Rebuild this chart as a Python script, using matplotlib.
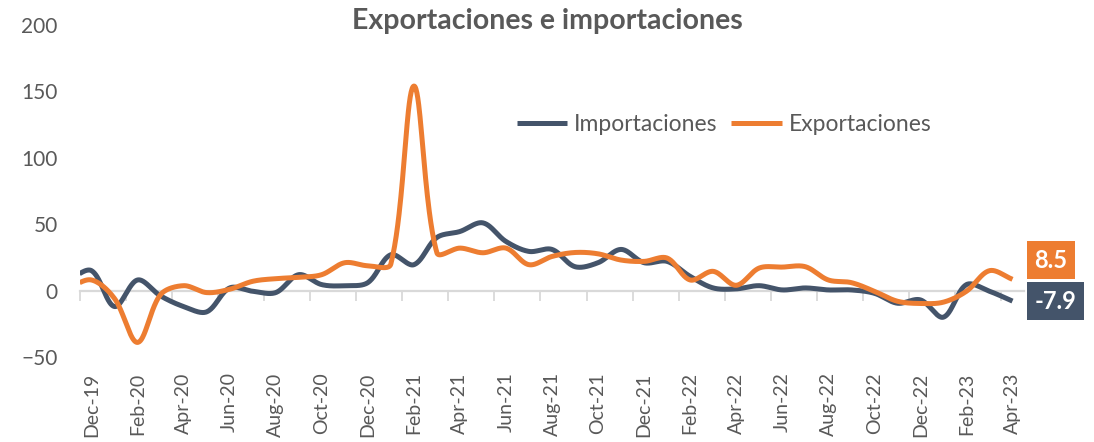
import numpy as np
import pandas as pd
import matplotlib
matplotlib.use("Agg")
import matplotlib.pyplot as plt

plt.rcParams["font.family"] = ["Lato", "DejaVu Sans"]

# -----------------------------
# DATA (Nov-19 .. Apr-23, Nov-19 only partly visible at left edge)
# -----------------------------
months = pd.date_range("2019-11-01", "2023-04-01", freq="MS")
month_labels = [m.strftime("%b-%y") for m in months]

importaciones = [8, 15, -12, 8, -4, -12, -16, 2, -0.5, -1.5, 12,
                 4.5, 3.7, 6, 27, 19.5, 40, 44.5, 51, 37, 29.5,
                 31, 18, 21, 31, 21, 22, 10.7, 2, 1.3, 3.7,
                 0.5, 2, 0.5, 0.5, -2, -9.5, -7, -20, 4.5, -0.5, -7.9]

exportaciones = [2, 8, -6, -39, -3, 3.7, -1.5, 1, 7, 9, 10,
                 12, 21, 18.7, 20, 154, 28.5, 32, 28.5, 32, 19.5,
                 25.7, 28.7, 27.7, 23, 22, 24.5, 8, 14.5, 4, 17,
                 17.7, 18, 8, 6, -0.5, -8, -9.7, -8.7, -0.5, 15, 8.5]

BLUE = "#44546A"
ORANGE = "#ED7D31"
GRAY_TXT = "#595959"
GRAY_LINE = "#D9D9D9"

# approx. pixel scale of the plot (px per month, px per unit) for smoothing
SX, SY = 23.0, 1.333


# -----------------------------
# Excel-like smoothed line (Bezier, arms scaled by chord length)
# -----------------------------
def smooth(x, y, steps=40, f=1 / 3):
    p = np.column_stack([np.asarray(x, float) * SX, np.asarray(y, float) * SY])
    pp = np.vstack([p[0], p, p[-1]])
    out = []
    for i in range(len(p) - 1):
        p0, p1, p2, p3 = pp[i], pp[i + 1], pp[i + 2], pp[i + 3]
        d01 = np.linalg.norm(p1 - p0)
        d12 = np.linalg.norm(p2 - p1)
        d23 = np.linalg.norm(p3 - p2)
        c1 = p1 + (p2 - p0) * f * d12 / max(d01 + d12, 1e-9)
        c2 = p2 - (p3 - p1) * f * d12 / max(d12 + d23, 1e-9)
        t = np.linspace(0, 1, steps, endpoint=False)[:, None]
        seg = ((1 - t) ** 3) * p1 + 3 * ((1 - t) ** 2) * t * c1 \
            + 3 * (1 - t) * t**2 * c2 + t**3 * p2
        out.append(seg)
    out.append(p[-1][None, :])
    out = np.vstack(out)
    return out[:, 0] / SX, out[:, 1] / SY


# x index: Dec-19 = 0
xi = np.arange(len(months)) - 1

fig = plt.figure(figsize=(10.94, 4.42), dpi=100)
ax = fig.add_axes([80 / 1094, 1 - 357 / 442, 944 / 1094, 332 / 442])

xb, yb = smooth(xi, importaciones)
xo, yo = smooth(xi, exportaciones)
ax.plot(xb, yb, color=BLUE, lw=3.6, solid_capstyle="butt", label="Importaciones", zorder=3)
ax.plot(xo, yo, color=ORANGE, lw=3.6, solid_capstyle="butt", label="Exportaciones", zorder=4)

ax.set_xlim(-0.5, 40.5)
ax.set_ylim(-50, 200)
ax.set_yticks(np.arange(-50, 201, 50))
ax.tick_params(axis="y", length=0, pad=16, labelsize=15, labelcolor=GRAY_TXT)

# category labels every two months, at the bottom
lab_idx = np.arange(1, len(months), 2)
ax.set_xticks(xi[lab_idx])
ax.set_xticklabels([month_labels[i] for i in lab_idx], rotation=90)
ax.tick_params(axis="x", length=0, pad=11, labelsize=14, labelcolor=GRAY_TXT)

for s in ax.spines.values():
    s.set_visible(False)

# zero axis line with tick marks between categories
sec = ax.secondary_xaxis(0, transform=ax.transData)
sec.spines["bottom"].set_color(GRAY_LINE)
sec.spines["bottom"].set_linewidth(1.6)
sec.set_xticks(np.arange(-0.5, 40.5, 2))
sec.tick_params(axis="x", length=7, width=1.3, color=GRAY_LINE, labelbottom=False)

# end value labels
ax.annotate(f"{exportaciones[-1]:.1f}", xy=(xi[-1], exportaciones[-1]),
            xytext=(22, 19), textcoords="offset pixels", ha="left", va="center",
            color="white", fontsize=17, fontweight="bold",
            bbox=dict(boxstyle="square,pad=0.32", fc=ORANGE, ec="none"))
ax.annotate(f"{importaciones[-1]:.1f}", xy=(xi[-1], importaciones[-1]),
            xytext=(22, 0), textcoords="offset pixels", ha="left", va="center",
            color="white", fontsize=17, fontweight="bold",
            bbox=dict(boxstyle="square,pad=0.32", fc=BLUE, ec="none"))

ax.legend(loc="center left", bbox_to_anchor=(0.441, 0.70), ncol=2, frameon=False,
          fontsize=16.5, handlelength=2.2, handletextpad=0.3, columnspacing=0.6,
          labelcolor=GRAY_TXT)

fig.text(0.5, 1 - 21 / 442, "Exportaciones e importaciones", ha="center", va="center",
         fontsize=20.5, fontweight="bold", color=GRAY_TXT)

fig.savefig("out.png", dpi=100)
